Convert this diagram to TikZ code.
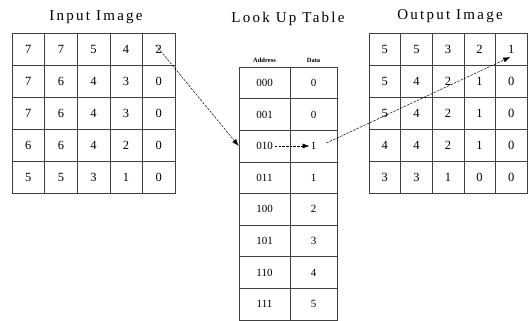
\documentclass[tikz,border=0pt]{standalone}
\usepackage{fontspec}
\setmainfont{Liberation Serif}
\usetikzlibrary{arrows.meta}
\begin{document}
\begin{tikzpicture}[x=1pt,y=-1pt,
  gridcell/.style={draw=black!75, line width=0.6pt, inner sep=0pt, font=\fontsize{12.5}{13}\selectfont},
  incell/.style={gridcell, minimum width=32.6pt, minimum height=32pt},
  outcell/.style={gridcell, minimum width=31.6pt, minimum height=32pt},
  addrcell/.style={gridcell, minimum width=51pt, minimum height=31.6pt, font=\fontsize{11}{12}\selectfont},
  datacell/.style={gridcell, minimum width=47pt, minimum height=31.6pt, font=\fontsize{11}{12}\selectfont},
  title/.style={font=\fontsize{15}{17}\selectfont\addfontfeatures{LetterSpace=15}},
  header/.style={font=\fontsize{6.5}{7}\selectfont\bfseries},
  link/.style={-{Latex[length=7pt,width=5pt]}, line width=0.5pt, dash pattern=on 2.5pt off 1.2pt}
]
\useasboundingbox (0,0) rectangle (528,321);
% titles
\node[title] (tin) at (96,17) {Input Image};
\node[title] (tlut) at (288,19) {Look Up Table};
\node[title] (tout) at (450,16) {Output Image};
% input image
\foreach \row [count=\i] in {{7,7,5,4,2},{7,6,4,3,0},{7,6,4,3,0},{6,6,4,2,0},{5,5,3,1,0}}{
  \foreach \v [count=\j] in \row {
    \node[incell] (in-\i-\j) at ({12+32.6*(\j-0.5)},{33+32*(\i-0.5)}) {\v};
  }
}
% output image
\foreach \row [count=\i] in {{5,5,3,2,1},{5,4,2,1,0},{5,4,2,1,0},{4,4,2,1,0},{3,3,1,0,0}}{
  \foreach \v [count=\j] in \row {
    \node[outcell] (out-\i-\j) at ({369+31.6*(\j-0.5)},{33+32*(\i-0.5)}) {\v};
  }
}
% look up table
\node[header] (haddr) at (264.5,60) {Address};
\node[header] (hdata) at (313.5,60) {Data};
\foreach \a/\d [count=\i] in {000/0,001/0,010/1,011/1,100/2,101/3,110/4,111/5}{
  \node[addrcell] (addr-\i) at (264.5,{67+31.6*(\i-0.5)}) {\a};
  \node[datacell] (data-\i) at (313.5,{67+31.6*(\i-0.5)}) {\d};
}
% text anchors inside the LUT row 010
\node[inner sep=0pt, font=\fontsize{11}{12}\selectfont, opacity=0] (a3txt) at (addr-3) {010};
\node[inner sep=0pt, font=\fontsize{11}{12}\selectfont, opacity=0] (d3txt) at (data-3) {1};
\coordinate (src1) at ([xshift=-3pt,yshift=4pt]in-1-5.center);
\coordinate (dst3) at ([xshift=-1pt,yshift=-8pt]out-1-5.center);
% connectors
\draw[link] (src1) -- (addr-3.west);
\draw[link] ([xshift=2pt]a3txt.east) -- ([xshift=-1pt]d3txt.west);
\draw[link] ([xshift=10pt,yshift=3pt]d3txt.east) -- (dst3);
\end{tikzpicture}
\end{document}
